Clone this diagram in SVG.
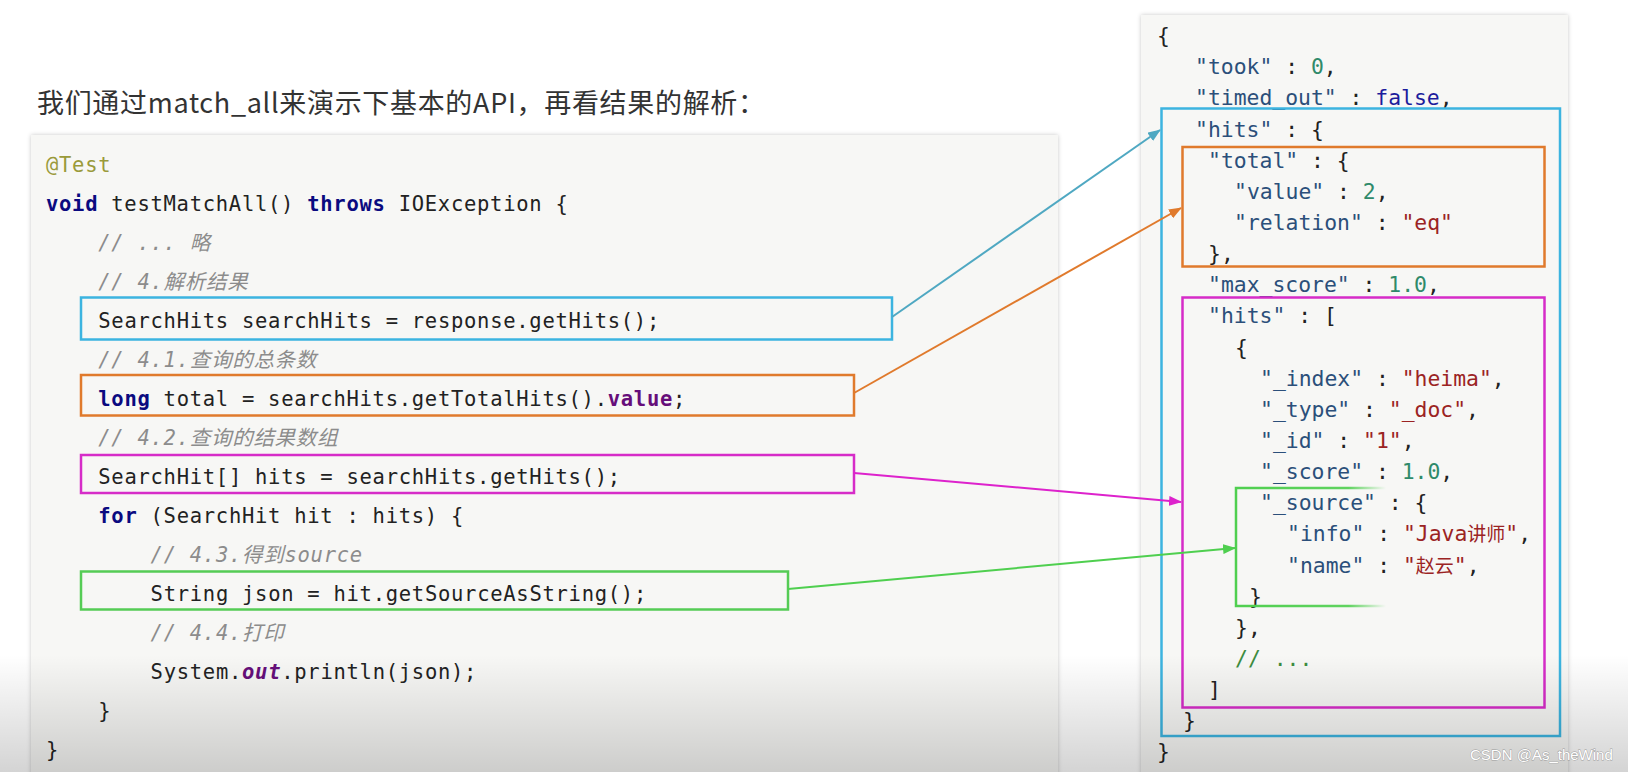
<svg xmlns="http://www.w3.org/2000/svg" width="1628" height="772" viewBox="0 0 1628 772">
<defs>
<style>
.title{font-family:"Noto Sans CJK SC","Noto Sans",sans-serif;font-size:27px;fill:#333333}
.code{font-family:"DejaVu Sans Mono","Noto Sans CJK SC",monospace;font-size:20.5px;letter-spacing:0.72px;fill:#222222}
.json{font-family:"DejaVu Sans Mono","Noto Sans CJK SC",monospace;font-size:21.4px;fill:#222222}
.kw{font-weight:bold;fill:#0a0a80}
.ann{fill:#9a9a3a}
.cm{font-style:italic;fill:#8c8c8c}
.fld{font-weight:bold;fill:#660e7a}
.sfld{font-weight:bold;font-style:italic;fill:#660e7a}
.key{fill:#2b4f7a}
.num{fill:#2f8a6a}
.bool{fill:#1c1c9c}
.str{fill:#9b2323}
.jcm{fill:#3d8c40}
.cjk{font-family:"Noto Sans CJK SC",sans-serif;font-size:19px}
.panel{fill:#f7f7f5}
.box{fill:none;stroke-width:2.5}
.conn{fill:none;stroke-width:2}
.wm{font-family:"Liberation Sans",Arial,sans-serif;font-size:15px;fill:#ffffff;stroke:#9a9a9a;stroke-width:0.8px;paint-order:stroke}
</style>
<filter id="sh" x="-5%" y="-5%" width="110%" height="110%">
<feDropShadow dx="0" dy="0" stdDeviation="2" flood-color="#000" flood-opacity="0.22"/>
</filter>
<linearGradient id="gfade" gradientUnits="userSpaceOnUse" x1="1236" y1="0" x2="1386" y2="0">
<stop offset="0" stop-color="#4fcf4f" stop-opacity="1"/>
<stop offset="0.75" stop-color="#4fcf4f" stop-opacity="0.9"/>
<stop offset="1" stop-color="#4fcf4f" stop-opacity="0"/>
</linearGradient>
<linearGradient id="bottomShade" x1="0" y1="0" x2="0" y2="1">
<stop offset="0" stop-color="#000" stop-opacity="0"/>
<stop offset="1" stop-color="#000" stop-opacity="0.17"/>
</linearGradient>
<marker id="mBlue" markerUnits="userSpaceOnUse" markerWidth="13" markerHeight="10" refX="12" refY="5" orient="auto"><path d="M0,0 L13,5 L0,10 z" fill="#4fa8c2"/></marker>
<marker id="mOrange" markerUnits="userSpaceOnUse" markerWidth="13" markerHeight="10" refX="12" refY="5" orient="auto"><path d="M0,0 L13,5 L0,10 z" fill="#e07a2c"/></marker>
<marker id="mMagenta" markerUnits="userSpaceOnUse" markerWidth="13" markerHeight="10" refX="12" refY="5" orient="auto"><path d="M0,0 L13,5 L0,10 z" fill="#dd22cc"/></marker>
<marker id="mGreen" markerUnits="userSpaceOnUse" markerWidth="13" markerHeight="10" refX="12" refY="5" orient="auto"><path d="M0,0 L13,5 L0,10 z" fill="#4fcf4f"/></marker>
</defs>
<rect x="0" y="0" width="1628" height="772" fill="#ffffff"/>
<g id="title">
<text class="title" x="37" y="113" textLength="728" lengthAdjust="spacing">我们通过match_all来演示下基本的API，再看结果的解析：</text>
</g>
<g id="code-panel">
<rect class="panel" x="31" y="135" width="1027" height="645" filter="url(#sh)"/>
<text class="code" x="46" y="171.5"><tspan class="ann">@Test</tspan></text>
<text class="code" x="46" y="210.5"><tspan class="kw">void</tspan> testMatchAll() <tspan class="kw">throws</tspan> IOException {</text>
<text class="code cm" x="98.3" y="249.5">// ... 略</text>
<text class="code cm" x="98.3" y="288.5">// 4.解析结果</text>
<text class="code" x="98.3" y="327.5">SearchHits searchHits = response.getHits();</text>
<text class="code cm" x="98.3" y="366.5">// 4.1.查询的总条数</text>
<text class="code" x="98.3" y="405.5"><tspan class="kw">long</tspan> total = searchHits.getTotalHits().<tspan class="fld">value</tspan>;</text>
<text class="code cm" x="98.3" y="444.5">// 4.2.查询的结果数组</text>
<text class="code" x="98.3" y="483.5">SearchHit[] hits = searchHits.getHits();</text>
<text class="code" x="98.3" y="522.5"><tspan class="kw">for</tspan> (SearchHit hit : hits) {</text>
<text class="code cm" x="150.6" y="561.5">// 4.3.得到source</text>
<text class="code" x="150.6" y="600.5">String json = hit.getSourceAsString();</text>
<text class="code cm" x="150.6" y="639.5">// 4.4.打印</text>
<text class="code" x="150.6" y="678.5">System.<tspan class="sfld">out</tspan>.println(json);</text>
<text class="code" x="98.3" y="717.5">}</text>
<text class="code" x="46" y="756.5">}</text>
</g>
<g id="json-panel">
<rect class="panel" x="1141" y="15" width="427" height="765" filter="url(#sh)"/>
<text class="json" x="1157" y="43">{</text>
<text class="json" x="1195" y="74.2"><tspan class="key">"took"</tspan> : <tspan class="num">0</tspan>,</text>
<text class="json" x="1195" y="105.3"><tspan class="key">"timed_out"</tspan> : <tspan class="bool">false</tspan>,</text>
<text class="json" x="1195" y="136.5"><tspan class="key">"hits"</tspan> : {</text>
<text class="json" x="1208" y="167.6"><tspan class="key">"total"</tspan> : {</text>
<text class="json" x="1234" y="198.8"><tspan class="key">"value"</tspan> : <tspan class="num">2</tspan>,</text>
<text class="json" x="1234" y="229.9"><tspan class="key">"relation"</tspan> : <tspan class="str">"eq"</tspan></text>
<text class="json" x="1208" y="261">},</text>
<text class="json" x="1208" y="292.2"><tspan class="key">"max_score"</tspan> : <tspan class="num">1.0</tspan>,</text>
<text class="json" x="1208" y="323.3"><tspan class="key">"hits"</tspan> : [</text>
<text class="json" x="1235" y="354.5">{</text>
<text class="json" x="1260" y="385.6"><tspan class="key">"_index"</tspan> : <tspan class="str">"heima"</tspan>,</text>
<text class="json" x="1260" y="416.8"><tspan class="key">"_type"</tspan> : <tspan class="str">"_doc"</tspan>,</text>
<text class="json" x="1260" y="447.9"><tspan class="key">"_id"</tspan> : <tspan class="str">"1"</tspan>,</text>
<text class="json" x="1260" y="479"><tspan class="key">"_score"</tspan> : <tspan class="num">1.0</tspan>,</text>
<text class="json" x="1260" y="510.2"><tspan class="key">"_source"</tspan> : {</text>
<text class="json" x="1287" y="541.3"><tspan class="key">"info"</tspan> : <tspan class="str">"Java<tspan class="cjk">讲师</tspan>"</tspan>,</text>
<text class="json" x="1287" y="572.5"><tspan class="key">"name"</tspan> : <tspan class="str">"<tspan class="cjk">赵云</tspan>"</tspan>,</text>
<text class="json" x="1249" y="603.6">}</text>
<text class="json" x="1235" y="634.8">},</text>
<text class="json jcm" x="1235" y="665.9">// ...</text>
<text class="json" x="1208" y="697">]</text>
<text class="json" x="1183" y="728.2">}</text>
<text class="json" x="1157" y="759.3">}</text>
</g>
<g id="code-hits-box"><rect class="box" x="81" y="297.5" width="811" height="42" stroke="#3cb4e0"/></g>
<g id="code-total-box"><rect class="box" x="81" y="375" width="773" height="40.5" stroke="#e07a2c"/></g>
<g id="code-hitarray-box"><rect class="box" x="81" y="455" width="773" height="38" stroke="#d62cc8"/></g>
<g id="code-source-box"><rect class="box" x="81" y="571.5" width="707" height="38" stroke="#55cc55"/></g>
<g id="json-hits-box"><rect class="box" x="1161.5" y="108.5" width="398.5" height="627.5" stroke="#3cb4e0"/></g>
<g id="json-total-box"><rect class="box" x="1182.5" y="147" width="362" height="119.5" stroke="#e07a2c"/></g>
<g id="json-hitarray-box"><rect class="box" x="1182.5" y="297.5" width="362" height="410" stroke="#d62cc8"/></g>
<g id="json-source-box">
<path d="M1386,488 L1236,488 L1236,606 L1386,606" fill="none" stroke="url(#gfade)" stroke-width="2.5"/>
</g>
<g id="connectors">
<line class="conn" x1="892" y1="317" x2="1160" y2="130" stroke="#4fa8c2" marker-end="url(#mBlue)"/>
<line class="conn" x1="854" y1="393" x2="1181" y2="208" stroke="#e07a2c" marker-end="url(#mOrange)"/>
<line class="conn" x1="854" y1="473" x2="1181" y2="502" stroke="#dd22cc" stroke-width="2.5" marker-end="url(#mMagenta)"/>
<line class="conn" x1="788" y1="589" x2="1235" y2="548" stroke="#4fcf4f" stroke-width="2.5" marker-end="url(#mGreen)"/>
</g>
<rect x="0" y="655" width="1628" height="117" fill="url(#bottomShade)"/>
<text class="wm" x="1470" y="760">CSDN @As_theWind</text>
</svg>
